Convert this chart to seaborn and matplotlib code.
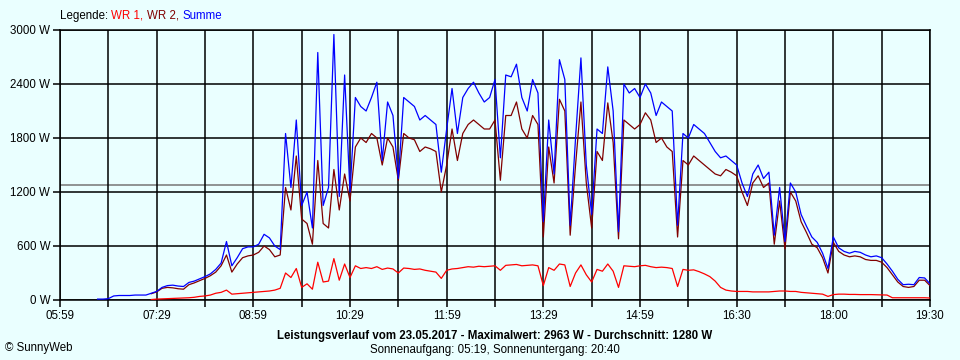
import matplotlib
matplotlib.use("Agg")
import matplotlib.pyplot as plt
import numpy as np
import pandas as pd
import seaborn as sns

nan = np.nan

# minutes since 05:59, sampled every 5 minutes
minutes = list(range(0, 811, 5))

wr1 = [nan] * 17 + [
    5, 10, 12, 15, 18, 20, 22, 25, 30, 40, 45, 55, 75, 85, 110, 65, 70, 75, 80, 85,
    90, 95, 100, 110, 130, 300, 250, 350, 140, 180, 120, 420, 200, 210, 460, 220, 400, 250, 380, 350,
    360, 350, 370, 340, 355, 345, 300, 355, 350, 340, 345, 330, 320, 310, 240, 330, 345, 350, 360, 370,
    365, 375, 370, 375, 380, 330, 385, 390, 395, 380, 385, 390, 380, 160, 360, 330, 400, 390, 150, 300,
    390, 280, 200, 340, 320, 400, 320, 140, 380, 375, 370, 380, 385, 370, 360, 365, 360, 350, 150, 340,
    330, 335, 315, 290, 260, 210, 140, 110, 100, 95, 95, 95, 90, 90, 90, 90, 95, 100, 100, 95,
    95, 85, 80, 75, 70, 65, 40, 60, 65, 65, 62, 62, 60, 60, 60, 58, 55, 55, 25, 25,
    25, 25, 25, 25, 25, 22]

wr2 = [nan] * 17 + [
    70, 90, 130, 140, 135, 125, 120, 170, 190, 215, 240, 270, 310, 380, 500, 310, 400, 470, 490, 500,
    530, 600, 560, 480, 500, 1250, 1000, 1600, 900, 850, 620, 1550, 850, 800, 1450, 1000, 1400, 1100, 1700, 1800,
    1750, 1850, 1800, 1500, 1800, 1700, 1330, 1850, 1800, 1780, 1650, 1700, 1680, 1650, 1200, 1500, 1900, 1550, 1850, 1950,
    2000, 1950, 1900, 1900, 2000, 1330, 2050, 2050, 2200, 1900, 1800, 2050, 1950, 700, 1700, 1300, 2230, 2100, 720, 1500,
    2200, 1300, 800, 1650, 1550, 2190, 1750, 680, 2000, 1950, 1900, 1950, 2080, 2000, 1750, 1800, 1700, 1650, 700, 1550,
    1500, 1600, 1550, 1500, 1450, 1400, 1380, 1450, 1420, 1380, 1200, 1050, 1300, 1380, 1250, 1300, 620, 1100, 570, 1200,
    1100, 870, 750, 620, 580, 470, 300, 640, 540, 500, 480, 490, 480, 450, 440, 440, 420, 360, 280, 200,
    150, 140, 150, 220, 220, 160]

summe = [nan] * 7 + [
    10, 10, 15, 45, 50, 50, 50, 55, 55, 55, 75, 95, 140, 160, 165, 155, 150, 195, 210, 235,
    260, 290, 340, 410, 650, 380, 470, 570, 590, 590, 620, 730, 690, 600, 560, 1850, 1250, 2000, 1050, 1200,
    800, 2750, 1050, 1250, 2950, 1150, 2500, 1200, 2250, 2150, 2100, 2250, 2420, 1550, 2200, 2050, 1350, 2250, 2200, 2150,
    2000, 2050, 2000, 1950, 1420, 1900, 2350, 1850, 2250, 2350, 2420, 2300, 2200, 2250, 2450, 1580, 2500, 2480, 2620, 2250,
    2100, 2450, 2300, 870, 2000, 1400, 2670, 2450, 830, 1800, 2690, 1500, 950, 1900, 1850, 2590, 2100, 760, 2400, 2300,
    2350, 2250, 2400, 2300, 2050, 2200, 2150, 2100, 830, 1850, 1800, 1950, 1900, 1850, 1750, 1650, 1580, 1600, 1550, 1500,
    1300, 1150, 1400, 1500, 1350, 1420, 720, 1250, 650, 1300, 1200, 950, 820, 700, 640, 520, 350, 700, 580, 540,
    520, 540, 530, 500, 480, 490, 470, 400, 320, 230, 170, 175, 170, 250, 245, 180]

avg_w = 1280
grid_minutes = list(range(0, 811, 45))
time_labels = ["05:59", "07:29", "08:59", "10:29", "11:59", "13:29",
               "14:59", "16:30", "18:00", "19:30"]
y_ticks = [0, 600, 1200, 1800, 2400, 3000]

df = pd.DataFrame({"t": minutes * 3,
                   "W": wr2 + summe + wr1,
                   "serie": ["WR 2"] * len(minutes) + ["Summe"] * len(minutes) + ["WR 1"] * len(minutes)})

bg = "#EAFFFF"
font = ["Liberation Sans", "DejaVu Sans"]
plt.rcParams["font.family"] = font

fig = plt.figure(figsize=(9.6, 3.6), dpi=100, facecolor=bg)
ax = fig.add_axes([60 / 960, 60 / 360, 870 / 960, 270 / 360])
ax.set_facecolor(bg)

ax.axhline(avg_w, color="#808080", lw=1.2, zorder=1)
colors = {"WR 2": "#800000", "Summe": "#0000FF", "WR 1": "#FF0000"}
for name in ["WR 2", "Summe", "WR 1"]:
    sub = df[df["serie"] == name].dropna()
    sns.lineplot(data=sub, x="t", y="W", color=colors[name], lw=0.9, ax=ax, zorder=3)

ax.set_xlim(0, 810)
ax.set_ylim(0, 3000)
ax.set_xticks(grid_minutes)
xl = []
for i in range(len(grid_minutes)):
    xl.append(time_labels[i // 2] if i % 2 == 0 else "")
ax.set_xticklabels(xl)
ax.set_yticks(y_ticks)
ax.set_yticklabels([f"{v} W" for v in y_ticks])
ax.grid(True, color="black", lw=1.1, zorder=2)
ax.set_axisbelow(False)
for s in ax.spines.values():
    s.set_color("black")
    s.set_linewidth(1.1)
    s.set_zorder(2)
ax.tick_params(direction="out", length=5, width=1.1, color="black", labelsize=8.3, pad=2)
ax.set_xlabel("")
ax.set_ylabel("")

# legend line on top
t0 = fig.text(60 / 960, 1 - 16 / 360, "Legende: ", color="black", fontsize=8.3, va="center")
prev = t0
for label, c in [("WR 1, ", "#FF0000"), ("WR 2, ", "#800000"), ("Summe", "#0000FF")]:
    prev = ax.annotate(label, xy=(1, 0), xycoords=prev, va="bottom", ha="left",
                       color=c, fontsize=8.3, annotation_clip=False)

fig.text(495 / 960, 1 - 336 / 360,
         "Leistungsverlauf vom 23.05.2017 - Maximalwert: 2963 W - Durchschnitt: 1280 W",
         ha="center", va="center", fontsize=8.3, fontweight="bold")
fig.text(495 / 960, 1 - 350 / 360, "Sonnenaufgang: 05:19, Sonnenuntergang: 20:40",
         ha="center", va="center", fontsize=8.3)
fig.text(5 / 960, 1 - 348 / 360, "© SunnyWeb", ha="left", va="center", fontsize=8.3)

plt.savefig("out.png", dpi=100, facecolor=bg)
